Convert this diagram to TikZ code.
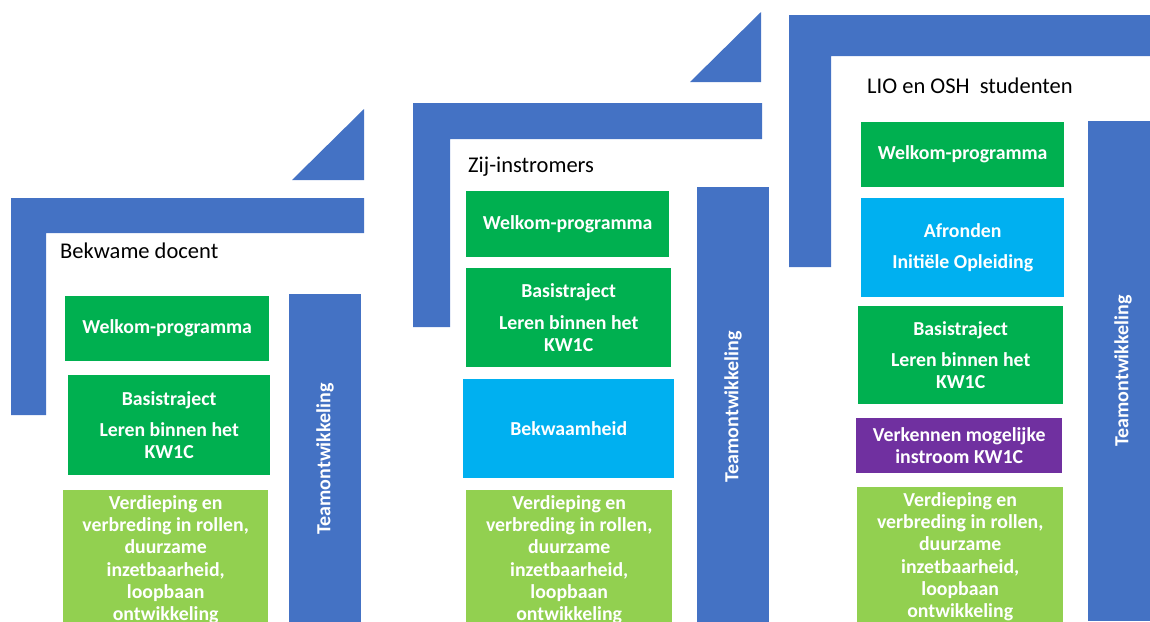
\documentclass[tikz,border=0pt]{standalone}
\usepackage{fontspec}
\setmainfont{Carlito}
\definecolor{kwblauw}{HTML}{4472C4}
\definecolor{kwgroen}{HTML}{00B050}
\definecolor{kwlichtgroen}{HTML}{92D050}
\definecolor{kwcyaan}{HTML}{00B0F0}
\definecolor{kwpaars}{HTML}{7030A0}
\tikzset{
  balk/.style={fill=kwblauw},
  blok/.style={anchor=north west, inner sep=0pt, text=white, align=center,
    font=\bfseries\fontsize{19.8}{22.3}\selectfont},
  kop/.style={anchor=base west, inner sep=0pt, font=\fontsize{22.5}{26}\selectfont},
  team/.style={fill=kwblauw, rotate=90, inner sep=0pt, text=white,
    font=\bfseries\fontsize{20}{24}\selectfont}
}
\begin{document}
\begin{tikzpicture}[x=1pt,y=-1pt]
\clip (0,0) rectangle (1150,621);

% Bekwame docent
\fill[balk] (11,198) -- (364,198) -- (364,233) -- (46,233) -- (46,415) -- (11,415) -- cycle;
\fill[balk] (292,180) -- (364,180) -- (364,109) -- cycle;
\node[kop] (kopA) at (60,258) {Bekwame docent};
\node[blok, fill=kwgroen, minimum width=204, minimum height=65] (welkomA) at (65,296) {Welkom-programma};
\node[blok, fill=kwgroen, minimum width=202, minimum height=100] (basisA) at (68,375) {Basistraject\\[9pt]Leren binnen het\\KW1C};
\node[blok, fill=kwlichtgroen, minimum width=205, minimum height=139] (verdiepA) at (63,490) {Verdieping en\\verbreding in rollen,\\duurzame\\inzetbaarheid,\\loopbaan\\ontwikkeling};
\node[team, minimum width=330, minimum height=72] (teamA) at (325,459) {Teamontwikkeling};

% Zij-instromers
\fill[balk] (413,103) -- (762,103) -- (762,139) -- (450,139) -- (450,327) -- (413,327) -- cycle;
\fill[balk] (690,82) -- (761,82) -- (761,12) -- cycle;
\node[kop] (kopB) at (468,172) {Zij-instromers};
\node[blok, fill=kwgroen, minimum width=203, minimum height=66] (welkomB) at (466,191) {Welkom-programma};
\node[blok, fill=kwgroen, minimum width=205, minimum height=99] (basisB) at (466,268) {Basistraject\\[9pt]Leren binnen het\\KW1C};
\node[blok, fill=kwcyaan, minimum width=211, minimum height=99] (bekwaamB) at (463,379) {Bekwaamheid};
\node[blok, fill=kwlichtgroen, minimum width=206, minimum height=139] (verdiepB) at (466,490) {Verdieping en\\verbreding in rollen,\\duurzame\\inzetbaarheid,\\loopbaan\\ontwikkeling};
\node[team, minimum width=440, minimum height=72] (teamB) at (733,407) {Teamontwikkeling};

% LIO en OSH studenten
\fill[balk] (789,15) -- (1150,15) -- (1150,56) -- (831,56) -- (831,267) -- (789,267) -- cycle;
\node[kop] (kopC) at (867,93) {LIO en OSH\ \ studenten};
\node[blok, fill=kwgroen, minimum width=203, minimum height=65] (welkomC) at (861,122) {Welkom-programma};
\node[blok, fill=kwcyaan, minimum width=203, minimum height=99] (afrondC) at (861,198) {Afronden\\[8pt]Initiële Opleiding};
\node[blok, fill=kwgroen, minimum width=205, minimum height=98] (basisC) at (858,306) {Basistraject\\[9pt]Leren binnen het\\KW1C};
\node[blok, fill=kwpaars, minimum width=206, minimum height=55] (verkenC) at (856,418) {Verkennen mogelijke\\instroom KW1C};
\node[blok, fill=kwlichtgroen, minimum width=206, minimum height=139] (verdiepC) at (857,487) {Verdieping en\\verbreding in rollen,\\duurzame\\inzetbaarheid,\\loopbaan\\ontwikkeling};
\node[team, minimum width=500, minimum height=70] (teamC) at (1123,371) {Teamontwikkeling};

\end{tikzpicture}
\end{document}
